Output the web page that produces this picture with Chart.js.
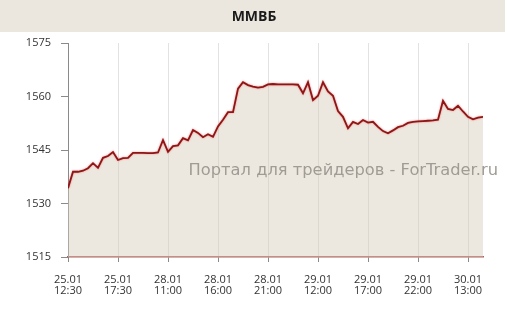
<!DOCTYPE html>
<html>
<head>
<meta charset="utf-8">
<script src="https://cdn.jsdelivr.net/npm/chart.js@4"></script>
<style>
  body { margin: 0; background: #fff; }
</style>
</head>
<body>
<canvas id="chart" width="505" height="318"></canvas>
<script>
// ММВБ, 30-минутные значения
const values = [
  1534.3, 1538.9, 1538.9, 1539.2, 1539.9, 1541.3, 1540.0, 1542.8, 1543.3, 1544.4,
  1542.2, 1542.7, 1542.8, 1544.2, 1544.2, 1544.2, 1544.1, 1544.1, 1544.3, 1547.8,
  1544.5, 1546.1, 1546.3, 1548.3, 1547.7, 1550.6, 1549.8, 1548.6, 1549.4, 1548.7,
  1551.6, 1553.5, 1555.6, 1555.6, 1562.2, 1564.0, 1563.2, 1562.8, 1562.5, 1562.7,
  1563.4, 1563.5, 1563.4, 1563.4, 1563.4, 1563.4, 1563.3, 1560.9, 1564.0, 1559.0,
  1560.2, 1564.0, 1561.4, 1560.2, 1555.9, 1554.3, 1551.1, 1552.9, 1552.3, 1553.4,
  1552.7, 1552.9, 1551.5, 1550.3, 1549.7, 1550.5, 1551.4, 1551.8, 1552.6, 1552.9,
  1553.0, 1553.1, 1553.2, 1553.3, 1553.5, 1558.8, 1556.5, 1556.2, 1557.4, 1555.8,
  1554.3, 1553.6, 1554.1, 1554.3
];

// подписи по оси X, каждые 10 точек
const tickLabels = [
  ['25.01', '12:30'], ['25.01', '17:30'], ['28.01', '11:00'],
  ['28.01', '16:00'], ['28.01', '21:00'], ['29.01', '12:00'],
  ['29.01', '17:00'], ['29.01', '22:00'], ['30.01', '13:00']
];
const labelStep = 10;

const yTicks = [1515, 1530, 1545, 1560, 1575];

const title = 'ММВБ';
const watermark = 'Портал для трейдеров - ForTrader.ru';

const points = values.map((v, i) => ({ x: i, y: v }));

const decorPlugin = {
  id: 'decor',
  beforeDraw(chart) {
    const ctx = chart.ctx;
    ctx.save();
    ctx.fillStyle = '#ebe7df';
    ctx.fillRect(0, 0, chart.width, 32);
    ctx.fillStyle = '#1a1a1a';
    ctx.font = 'bold 14px "Open Sans"';
    ctx.textAlign = 'center';
    ctx.textBaseline = 'middle';
    ctx.fillText(title, 254, 17);
    ctx.restore();
  },
  beforeDatasetDraw(chart) {
    const ctx = chart.ctx;
    ctx.save();
    ctx.shadowColor = 'rgba(225, 80, 80, 0.7)';
    ctx.shadowBlur = 2;
  },
  afterDatasetDraw(chart) {
    chart.ctx.restore();
  },
  afterDatasetsDraw(chart) {
    const ctx = chart.ctx;
    ctx.save();
    ctx.fillStyle = '#a09b95';
    ctx.font = '16.3px "DejaVu Sans"';
    ctx.textAlign = 'right';
    ctx.textBaseline = 'alphabetic';
    ctx.fillText(watermark, 498, 175);
    ctx.restore();
  }
};

new Chart(document.getElementById('chart'), {
  type: 'line',
  data: {
    datasets: [{
      data: points,
      borderColor: '#8e1616',
      borderWidth: 1.8,
      backgroundColor: 'rgba(215, 205, 185, 0.45)',
      fill: 'start',
      pointRadius: 0,
      tension: 0
    }]
  },
  options: {
    responsive: false,
    devicePixelRatio: 1,
    animation: false,
    layout: { padding: { top: 43, right: 22, left: 0, bottom: 0 } },
    plugins: {
      legend: { display: false },
      tooltip: { enabled: false }
    },
    scales: {
      x: {
        type: 'linear',
        min: 0,
        max: values.length - 1,
        afterBuildTicks: axis => {
          axis.ticks = tickLabels.map((l, i) => ({ value: i * labelStep }));
        },
        afterFit: s => { s.height = 61; },
        grid: {
          color: '#e2e2e2',
          tickColor: '#8a8a8a',
          tickLength: 5
        },
        border: { color: '#b0605a', width: 1.5 },
        ticks: {
          color: '#333',
          font: { family: 'Open Sans', size: 11, lineHeight: 1.05 },
          padding: 12,
          maxRotation: 0,
          autoSkip: false,
          callback: v => tickLabels[Math.round(v / labelStep)]
        }
      },
      y: {
        min: yTicks[0],
        max: yTicks[yTicks.length - 1],
        afterBuildTicks: axis => {
          axis.ticks = yTicks.map(v => ({ value: v }));
        },
        afterFit: s => { s.width = 68; },
        grid: {
          drawOnChartArea: false,
          tickColor: '#8a8a8a',
          tickLength: 7
        },
        border: { color: '#8a8a8a' },
        ticks: {
          color: '#333',
          font: { family: 'Open Sans', size: 11 },
          padding: 10,
          callback: v => String(v)
        }
      }
    }
  },
  plugins: [decorPlugin]
});
</script>
</body>
</html>
